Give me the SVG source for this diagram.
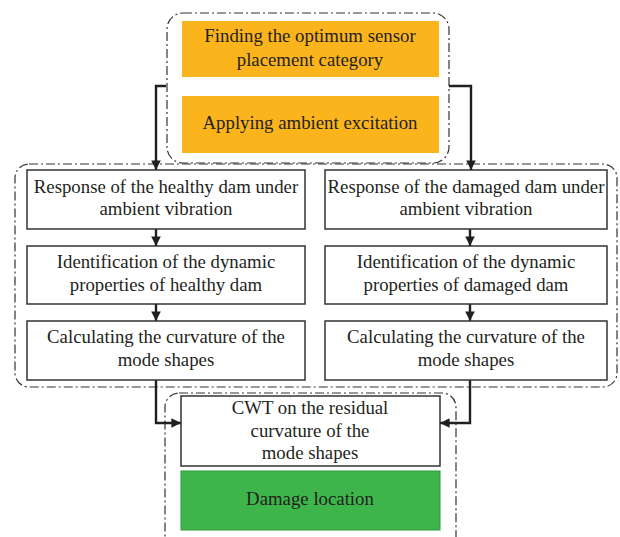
<svg xmlns="http://www.w3.org/2000/svg" width="620" height="537" viewBox="0 0 620 537">
<style>
.grp{fill:none;stroke:#333;stroke-width:1.2;stroke-dasharray:9 3 2 3}
.box{fill:#fff;stroke:#333;stroke-width:1.5}
.org{fill:#FBB41C}
.grn{fill:#3EB54A;stroke:#2f9a3c;stroke-width:1}
text{font-family:"Liberation Serif","Times New Roman",serif;font-size:18.8px;fill:#231F20;text-anchor:middle}
.con{fill:none;stroke:#231F20;stroke-width:2.4}
</style>
<defs>
<marker id="ah" viewBox="0 0 10 10" refX="10" refY="5" markerWidth="4" markerHeight="4" orient="auto" markerUnits="strokeWidth">
<path d="M0,0 L10,5 L0,10 z" fill="#231F20"/>
</marker>
</defs>
<g id="groups">
<rect class="grp" x="167" y="13" width="282" height="150" rx="16"/>
<rect class="grp" x="15" y="164" width="602" height="223" rx="14"/>
<rect class="grp" x="165" y="393" width="291" height="160" rx="14"/>
</g>
<g id="connectors">
<path class="con" d="M166,86 H156 V170" marker-end="url(#ah)"/>
<path class="con" d="M449,86 H471 V170" marker-end="url(#ah)"/>
<path class="con" d="M156,229 V246" marker-end="url(#ah)"/>
<path class="con" d="M156,304 V321" marker-end="url(#ah)"/>
<path class="con" d="M470,229 V246" marker-end="url(#ah)"/>
<path class="con" d="M470,304 V321" marker-end="url(#ah)"/>
<path class="con" d="M156,380 V423 H181" marker-end="url(#ah)"/>
<path class="con" d="M470,380 V423 H440" marker-end="url(#ah)"/>
</g>
<g id="n1">
<rect class="org" x="182" y="21" width="257" height="56"/>
<text x="310" y="42">Finding the optimum sensor</text>
<text x="310" y="66">placement category</text>
</g>
<g id="n2">
<rect class="org" x="182" y="96" width="257" height="57"/>
<text x="310" y="129">Applying ambient excitation</text>
</g>
<g id="n3">
<rect class="box" x="27" y="170" width="278" height="59"/>
<text x="166" y="193">Response of the healthy dam under</text>
<text x="166" y="215">ambient vibration</text>
</g>
<g id="n4">
<rect class="box" x="27" y="246" width="278" height="58"/>
<text x="166" y="268">Identification of the dynamic</text>
<text x="166" y="291">properties of healthy dam</text>
</g>
<g id="n5">
<rect class="box" x="27" y="321" width="278" height="59"/>
<text x="166" y="343">Calculating the curvature of the</text>
<text x="166" y="366">mode shapes</text>
</g>
<g id="n6">
<rect class="box" x="325" y="170" width="282" height="59"/>
<text x="466" y="193">Response of the damaged dam under</text>
<text x="466" y="215">ambient vibration</text>
</g>
<g id="n7">
<rect class="box" x="325" y="246" width="282" height="58"/>
<text x="466" y="268">Identification of the dynamic</text>
<text x="466" y="291">properties of damaged dam</text>
</g>
<g id="n8">
<rect class="box" x="325" y="321" width="282" height="59"/>
<text x="466" y="343">Calculating the curvature of the</text>
<text x="466" y="366">mode shapes</text>
</g>
<g id="n9">
<rect class="box" x="181" y="396" width="259" height="70"/>
<text x="310" y="414">CWT on the residual</text>
<text x="310" y="437">curvature of the</text>
<text x="310" y="459">mode shapes</text>
</g>
<g id="n10">
<rect class="grn" x="181" y="471" width="259" height="59"/>
<text x="310" y="505">Damage location</text>
</g>
</svg>
